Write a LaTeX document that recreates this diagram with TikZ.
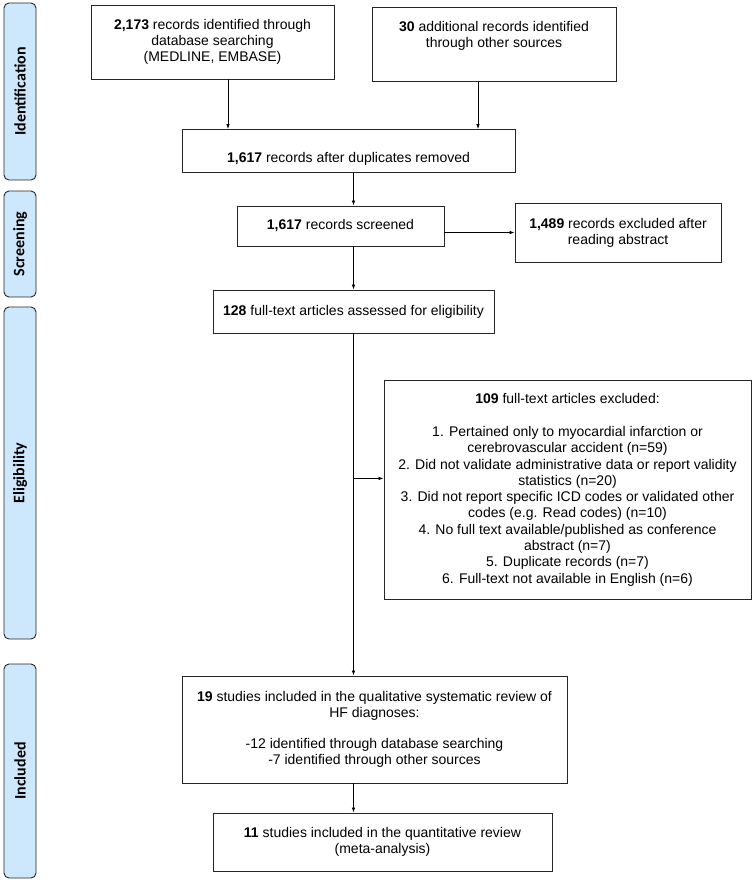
\documentclass[tikz,border=0pt]{standalone}
\usepackage{fontspec}
\setmainfont{Liberation Sans}
\newfontfamily\stagefont{Carlito}
\usetikzlibrary{arrows.meta}
\definecolor{stagefill}{RGB}{205,232,252}
\tikzset{
	box/.style={draw=black!85, line width=0.9pt, align=center, inner sep=0pt,
		font=\fontsize{14}{15.8}\selectfont},
	stage/.style={draw=black!85, fill=stagefill, line width=0.9pt, rounded corners=5pt,
		rotate=90, minimum height=32pt, inner sep=0pt,
		font=\stagefont\bfseries\fontsize{16}{18}\selectfont},
	flow/.style={-{Latex[length=5pt,width=3.6pt]}, line width=0.8pt}
}
\begin{document}
\begin{tikzpicture}[x=1pt,y=-1pt]
	\useasboundingbox (0,0) rectangle (754,883);

	% stages on the left
	\draw (20,91.5) node[stage, minimum width=177pt] (sid){Identification};
	\draw (20,244) node[stage, minimum width=106pt] (sscr){Screening};
	\draw (20,473) node[stage, minimum width=332pt] (selig){Eligibility};
	\draw (20,771) node[stage, minimum width=214pt] (sincl){Included};

	% boxes
	\draw (212.5,42) node[box, minimum width=243pt, minimum height=74pt] (rdb){\textbf{2,173} records identified through\\database searching\\(MEDLINE, EMBASE)};
	\draw (494,7) node[box, anchor=north, minimum width=244pt, text height=39.7pt, text depth=34.3pt] (roth){\textbf{30} additional records identified\\through other sources};
	\draw (348.5,129) node[box, anchor=north, minimum width=333pt, text height=32.7pt, text depth=10.3pt] (dup){\textbf{1,617} records after duplicates removed};
	\draw (340.5,226) node[box, minimum width=207pt, minimum height=40pt] (scr){\textbf{1,617} records screened};
	\draw (618,232.5) node[box, minimum width=206pt, minimum height=59pt] (exc){\textbf{1,489} records excluded after\\reading abstract};
	\draw (353.5,311.5) node[box, minimum width=281pt, minimum height=43pt] (full){\textbf{128} full-text articles assessed for eligibility};
	\draw (567.5,489.5) node[box, minimum width=367pt, minimum height=219pt, font=\fontsize{14}{16.3}\selectfont] (fexc){\textbf{109} full-text articles excluded:\\[17pt]
		1. Pertained only to myocardial infarction or\\cerebrovascular accident (n=59)\\
		2. Did not validate administrative data or report validity\\statistics (n=20)\\
		3. Did not report specific ICD codes or validated other\\codes (e.g. Read codes) (n=10)\\
		4. No full text available/published as conference\\abstract (n=7)\\
		5. Duplicate records (n=7)\\
		6. Full-text not available in English (n=6)};
	\draw (374.5,729.5) node[box, minimum width=385pt, minimum height=107pt] (qual){\textbf{19} studies included in the qualitative systematic review of\\HF diagnoses:\\[15.5pt]-12 identified through database searching\\-7 identified through other sources};
	\draw (382.5,842) node[box, minimum width=339pt, minimum height=58pt] (meta){\textbf{11} studies included in the quantitative review\\(meta-analysis)};

	% connectors
	\draw[flow] ([xshift=15.5pt]rdb.south) -- ([xshift=15.5pt]rdb.south |- dup.north);
	\draw[flow] ([xshift=-16pt]roth.south) -- ([xshift=-16pt]roth.south |- dup.north);
	\draw[flow] (dup.south -| full.north) -- (scr.north -| full.north);
	\draw[flow] (scr.south -| full.north) -- (full.north);
	\draw[flow] (scr.east |- exc.west) -- (exc.west);
	\draw[flow] (full.south) -- (full.south |- qual.north);
	\path (full.south) ++(0,145) coordinate (br);
	\draw[flow] (br) -- (br -| fexc.west);
	\draw[flow] (qual.south -| full.south) -- (meta.north -| full.south);
\end{tikzpicture}
\end{document}
